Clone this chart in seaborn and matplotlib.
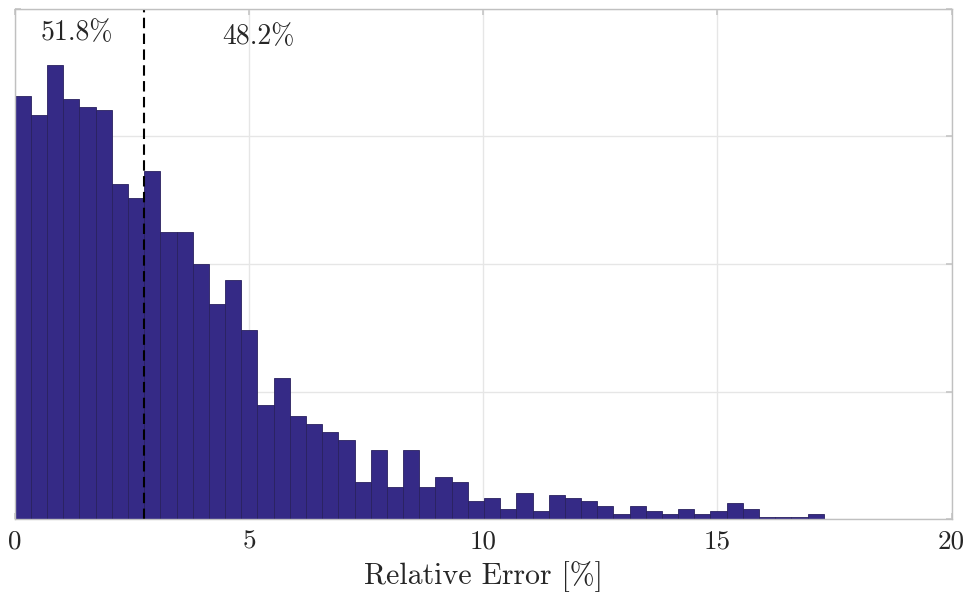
import numpy as np
import pandas as pd
import matplotlib
matplotlib.use("Agg")
import matplotlib.pyplot as plt
import seaborn as sns

# ---- data ----
counts = [159, 152, 171, 158, 155, 154, 126, 121, 131, 108,
          108, 96, 81, 90, 71, 43, 53, 39, 36, 33,
          30, 14, 26, 12, 26, 12, 16, 14, 7, 8,
          4, 10, 3, 9, 8, 7, 5, 2, 5, 3,
          2, 4, 2, 3, 6, 4, 1, 1, 1, 2]
bin_width = 0.3454
threshold = 2.763
left_label = "51.8%"
right_label = "48.2%"
xticks = [0, 5, 10, 15, 20]
xlabel = "Relative Error [%]"

nbins = len(counts)
edges = np.arange(nbins + 1) * bin_width
centers = (edges[:-1] + edges[1:]) / 2
df = pd.DataFrame({"err": centers, "n": counts})

sns.set_theme(style="white")
plt.rcParams["font.family"] = ["cmr10", "DejaVu Serif"]
plt.rcParams["axes.formatter.use_mathtext"] = True
plt.rcParams["mathtext.fontset"] = "cm"

fig = plt.figure(figsize=(9.69, 5.92), dpi=100)
ax = fig.add_axes([0.0152, 0.1228, 0.9669, 0.8625])

grid_step = 48
ax.set_axisbelow(True)

sns.histplot(data=df, x="err", weights="n", bins=nbins,
             binrange=(0, float(edges[-1])), ax=ax,
             color="#352a86", alpha=1.0, edgecolor="#29215f", linewidth=0.6)

ax.axvline(threshold, color="black", linestyle=(0, (5, 2.6)), linewidth=1.5)

ax.set_xlim(0, 20)
ax.set_ylim(0, 4 * grid_step)
ax.set_xticks(xticks)
ax.set_xticklabels([str(t) for t in xticks])
ax.set_yticks([grid_step * i for i in range(5)])
ax.set_yticklabels([])
ax.grid(True, color="#e6e6e6", linewidth=1.0)

ax.text(1.33, 183, left_label, ha="center", va="center", fontsize=20, color="#262626")
ax.text(5.2, 181.3, right_label, ha="center", va="center", fontsize=20, color="#262626")

for s in ax.spines.values():
    s.set_color("#c0c0c0")
    s.set_linewidth(1.0)
ax.tick_params(axis="both", which="both", direction="in", length=4,
               color="#c8c8c8", top=True, right=True, left=True, bottom=True,
               labelsize=19.5, pad=7.5, labelcolor="#262626")
ax.set_xlabel(xlabel, fontsize=21.5, labelpad=5.5, color="#262626")
ax.set_ylabel("")

fig.savefig("out.png", dpi=100)
